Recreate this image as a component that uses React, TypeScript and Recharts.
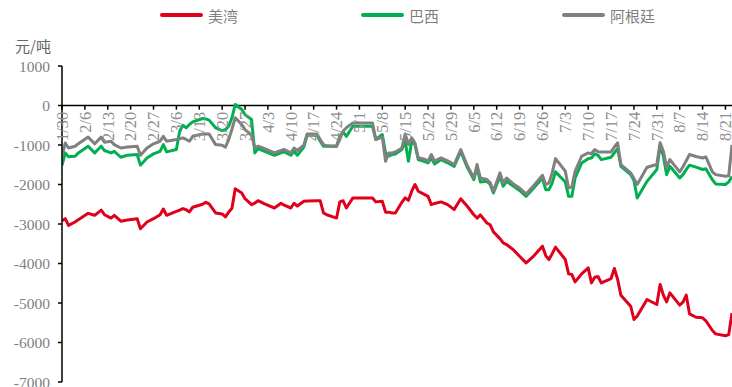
import React from 'react';
import { LineChart, Line, XAxis, YAxis, ReferenceLine } from 'recharts';

// day offsets from 2023-01-30
const days = [
  0, 1, 2, 4, 5, 8, 10, 12, 13, 15, 16, 18, 20, 23, 24, 26, 28, 30, 31, 32,
  35, 36, 37, 38, 39, 40, 43, 44, 45, 47, 49, 50, 51, 52, 53, 55, 56, 58, 59, 60,
  62, 65, 67, 68, 70, 71, 72, 74, 75, 78, 79, 80, 81, 84, 85, 86, 87, 89, 95, 96,
  98, 99, 100, 101, 102, 104, 105, 106, 107, 108, 109, 111, 112, 113, 114, 116, 118, 120, 122, 124,
  126, 127, 128, 130, 131, 132, 134, 135, 136, 138, 140, 142, 144, 147, 148, 149, 150, 151, 154, 155,
  156, 157, 159, 161, 162, 163, 164, 165, 168, 169, 170, 171, 174, 175, 176, 179, 182, 183, 184, 185,
  186, 189, 190, 191, 192, 194, 196, 197, 199, 200, 203, 204, 205,
];

const usGulf = [
  -2915, -2865, -3035, -2950, -2890, -2730, -2780, -2650, -2765, -2850, -2780, -2930, -2900, -2865, -3120, -2950, -2865, -2765, -2620, -2780,
  -2680, -2650, -2610, -2640, -2695, -2575, -2500, -2450, -2490, -2720, -2745, -2820, -2700, -2600, -2110, -2215, -2360, -2510, -2470, -2410,
  -2490, -2595, -2475, -2525, -2595, -2475, -2545, -2425, -2420, -2410, -2410, -2720, -2765, -2850, -2440, -2410, -2595, -2340, -2340, -2440,
  -2425, -2700, -2700, -2720, -2720, -2450, -2340, -2400, -2170, -2000, -2170, -2255, -2300, -2510, -2480, -2440, -2510, -2635, -2360, -2550,
  -2765, -2850, -2770, -2975, -3020, -3200, -3370, -3480, -3520, -3645, -3815, -3985, -3840, -3562, -3800, -3900, -3750, -3587, -3900, -4262,
  -4280, -4465, -4262, -4110, -4490, -4347, -4330, -4490, -4380, -4127, -4400, -4802, -5081, -5418, -5330, -4912, -5038, -4532, -4800, -4971,
  -4743, -5055, -4980, -4802, -5275, -5360, -5376, -5450, -5697, -5781, -5830, -5800, -5250,
];

const brazil = [
  -1513, -1200, -1300, -1285, -1200, -1030, -1200, -1030, -1140, -1200, -1160, -1310, -1260, -1240, -1510, -1330, -1225, -1160, -990, -1175,
  -1115, -650, -500, -565, -480, -415, -330, -340, -370, -565, -635, -610, -525, -310, 25, -100, -230, -355, -1200, -1090,
  -1160, -1260, -1200, -1175, -1260, -1160, -1260, -1055, -750, -750, -905, -1030, -1030, -1030, -780, -670, -780, -525, -525, -860,
  -735, -1200, -1285, -1240, -1230, -1115, -905, -1410, -905, -990, -1370, -1420, -1455, -1325, -1480, -1370, -1450, -1540, -1160, -1565,
  -1875, -1565, -1935, -1920, -2000, -2215, -1790, -2045, -1920, -2030, -2150, -2300, -2120, -1835, -2130, -2130, -1960, -1680, -1935, -2300,
  -2300, -1835, -1455, -1345, -1330, -1225, -1260, -1370, -1310, -1200, -1090, -1540, -1750, -1900, -2340, -1920, -1620, -1005, -1285, -1750,
  -1540, -1835, -1750, -1620, -1510, -1560, -1620, -1600, -1880, -1985, -2000, -1935, -1800,
];

const argentina = [
  -1285, -950, -1075, -1030, -970, -800, -970, -800, -930, -905, -990, -1075, -1050, -1030, -1260, -1075, -970, -905, -780, -905,
  -860, -840, -820, -860, -905, -780, -720, -720, -720, -990, -1005, -1055, -860, -600, -310, -480, -610, -750, -1075, -1030,
  -1090, -1200, -1140, -1115, -1200, -1075, -1140, -1005, -720, -720, -860, -990, -1020, -1030, -860, -650, -565, -440, -440, -860,
  -800, -1410, -1200, -1200, -1175, -1075, -720, -990, -820, -950, -1325, -1360, -1410, -1240, -1410, -1325, -1400, -1495, -1115, -1520,
  -1835, -1495, -1835, -1875, -1950, -2170, -1705, -1960, -1835, -1980, -2090, -2240, -2060, -1765, -2000, -1960, -1700, -1345, -1665, -2090,
  -2060, -1665, -1285, -1200, -1220, -1115, -1170, -1180, -1175, -1050, -945, -1495, -1705, -1850, -2000, -1565, -1495, -945, -1160, -1565,
  -1370, -1680, -1550, -1400, -1240, -1290, -1330, -1300, -1680, -1750, -1790, -1780, -1000,
];

const xTicks = [0, 7, 14, 21, 28, 35, 42, 49, 56, 63, 70, 77, 84, 91, 98, 105, 112, 119, 126, 133, 140, 147, 154, 161, 168, 175, 182, 189, 196, 203];
const xLabels = ['1/30', '2/6', '2/13', '2/20', '2/27', '3/6', '3/13', '3/20', '3/27', '4/3', '4/10', '4/17', '4/24', '5/1', '5/8', '5/15', '5/22', '5/29', '6/5', '6/12', '6/19', '6/26', '7/3', '7/10', '7/17', '7/24', '7/31', '8/7', '8/14', '8/21'];
const yTicks = [1000, 0, -1000, -2000, -3000, -4000, -5000, -6000, -7000];

const series = [
  { key: 'us', name: '美湾', color: '#e0001b' },
  { key: 'br', name: '巴西', color: '#00b050' },
  { key: 'ar', name: '阿根廷', color: '#808080' },
];

const data = days.map((d, i) => ({ d, us: usGulf[i], br: brazil[i], ar: argentina[i] }));

const W = 732;
const H = 387;
const TOP = 66;
const BOTTOM = 4;
const Y_MIN = -7000;
const Y_MAX = 1000;
// pixel row of the zero line (x axis crosses there)
const Y0 = TOP + ((H - TOP - BOTTOM) * Y_MAX) / (Y_MAX - Y_MIN);

const serif = '"Liberation Serif", "Times New Roman", serif';
const cjk = '"Noto Sans CJK SC", "Noto Sans", sans-serif';

function renderDateTick(props: any) {
  const { x, payload, index } = props;
  const idx = xTicks.indexOf(payload.value);
  const label = idx >= 0 ? xLabels[idx] : '';
  const ty = Y0 + 6;
  return (
    <g key={`t-${index}`}>
      <line x1={x} y1={Y0} x2={x} y2={Y0 + 4} stroke="#000" strokeWidth={1.5} />
      <text
        x={x}
        y={ty}
        dy="0.35em"
        textAnchor="end"
        transform={`rotate(-90, ${x}, ${ty})`}
        fill="#8c8c8c"
        fontSize={16.5}
        fontFamily={serif}
      >
        {label}
      </text>
    </g>
  );
}

export default function App() {
  return (
    <div style={{ position: 'absolute', left: 0, top: 0, width: W, height: H, background: '#fff' }}>
      <div style={{ position: 'absolute', left: 0, top: 0, width: W, height: 30, fontFamily: cjk, fontSize: 15, color: '#7f7f7f' }}>
        {series.map((s, i) => (
          <div key={s.key} style={{ position: 'absolute', left: 160 + i * 201, top: 5, display: 'flex', alignItems: 'center', height: 20 }}>
            <div style={{ width: 43, height: 4, background: s.color, borderRadius: 2 }} />
            <span style={{ marginLeft: 5 }}>{s.name}</span>
          </div>
        ))}
      </div>
      <div style={{ position: 'absolute', left: 15, top: 35, fontFamily: cjk, fontSize: 15, color: '#666' }}>元/吨</div>
      <LineChart width={W} height={H} data={data} margin={{ top: TOP, right: 0, bottom: BOTTOM, left: 0 }}>
        <XAxis
          dataKey="d"
          type="number"
          domain={[0, 205]}
          ticks={xTicks}
          interval={0}
          height={1}
          axisLine={false}
          tickLine={false}
          tick={renderDateTick}
          allowDataOverflow
        />
        <YAxis
          type="number"
          domain={[Y_MIN, Y_MAX]}
          ticks={yTicks}
          interval={0}
          width={62}
          axisLine={{ stroke: '#000', strokeWidth: 1.5 }}
          tickLine={{ stroke: '#000', strokeWidth: 1.5 }}
          tickSize={4}
          tickMargin={8}
          tick={{ fill: '#7f7f7f', fontSize: 15.5, fontFamily: serif }}
        />
        <ReferenceLine y={0} stroke="#000" strokeWidth={1.5} />
        {series.map((s) => (
          <Line
            key={s.key}
            dataKey={s.key}
            name={s.name}
            type="linear"
            stroke={s.color}
            strokeWidth={3}
            strokeLinejoin="round"
            dot={false}
            activeDot={false}
            isAnimationActive={false}
          />
        ))}
      </LineChart>
    </div>
  );
}
